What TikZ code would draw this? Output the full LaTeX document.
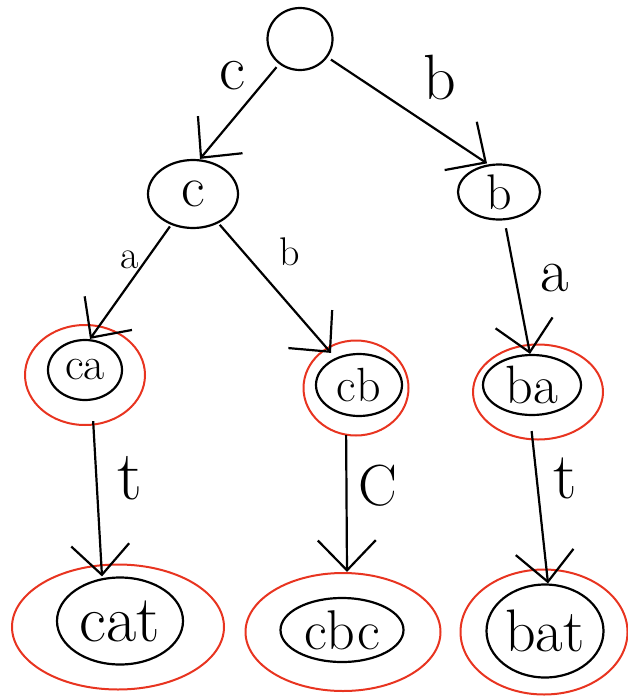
\documentclass[tikz,border=0pt]{standalone}
\usetikzlibrary{arrows.meta,shapes.geometric}
\definecolor{hred}{RGB}{232,52,32}
\begin{document}
\begin{tikzpicture}[x=1pt,y=-1pt,
  blk/.style={draw=black,line width=2.2pt,ellipse,inner sep=0pt},
  rd/.style={draw=hred,line width=2pt,ellipse,inner sep=0pt},
  arr/.style={line width=2.2pt,-{Straight Barb[length=30pt,width=58pt,line width=2.2pt]}},
  fs/.style={font=\fontsize{#1}{#1}\selectfont}]
\useasboundingbox (0,0) rectangle (627,698);
% nodes
\node[blk,minimum width=65pt,minimum height=62pt] (root) at (300,39) {};
\node[blk,minimum width=90pt,minimum height=68pt,fs=58] (c) at (193,194) {c};
\node[blk,minimum width=82pt,minimum height=55pt,fs=50] (b) at (499,192) {b};
\node[blk,minimum width=74pt,minimum height=60pt,fs=46] (ca) at (85,370) {ca};
\node[rd,minimum width=120pt,minimum height=100pt] (car) at (85,375) {};
\node[blk,minimum width=86pt,minimum height=62pt,fs=48] (cb) at (359,385) {cb};
\node[rd,minimum width=105pt,minimum height=95pt] (cbr) at (356,388) {};
\node[blk,minimum width=98pt,minimum height=60pt,fs=54] (ba) at (532,385) {ba};
\node[rd,minimum width=130pt,minimum height=95pt] (bar) at (538,392) {};
\node[blk,minimum width=126pt,minimum height=87pt,fs=66] (cat) at (120,621) {cat};
\node[rd,minimum width=212pt,minimum height=125pt] (catr) at (118,627) {};
\node[blk,minimum width=123pt,minimum height=64pt,fs=56] (cbc) at (342,630) {cbc};
\node[rd,minimum width=195pt,minimum height=118pt] (cbcr) at (343,632) {};
\node[blk,minimum width=117pt,minimum height=93pt,fs=60] (bat) at (545,631) {bat};
\node[rd,minimum width=167pt,minimum height=125pt] (batr) at (544,632) {};
% edges
\draw[arr,shorten <=4pt] (root) -- ([xshift=7pt]c.north);
\draw[arr,shorten <=4pt] (root) -- ([xshift=-12pt]b.north);
\draw[arr,shorten <=2pt] (c) -- ([xshift=5pt]ca.north);
\draw[arr,shorten <=2pt] (c) -- ([xshift=-28pt]cb.north);
\draw[arr,shorten <=8pt] (b) -- ([xshift=-2pt]ba.north);
\draw[arr,shorten <=20pt] ([xshift=7pt]ca.south) -- ([xshift=-18pt]cat.north);
\draw[arr,shorten <=18pt] ([xshift=-13pt]cb.south) -- ([xshift=5pt,yshift=25pt]cbc.north);
\draw[arr,shorten <=15pt] ([xshift=-2pt]ba.south) -- ([xshift=3pt]bat.north);
% labels
\node[fs=64] (lc) at (232,76) {c};
\node[fs=64] (lb) at (440,78) {b};
\node[fs=40] (la) at (130,260) {a};
\node[fs=40] (lb2) at (290,252) {b};
\node[fs=62] (la2) at (555,278) {a};
\node[fs=70] (lt1) at (130,478) {t};
\node[fs=58] (lC) at (378,486) {C};
\node[fs=66] (lt2) at (565,478) {t};
\end{tikzpicture}
\end{document}
